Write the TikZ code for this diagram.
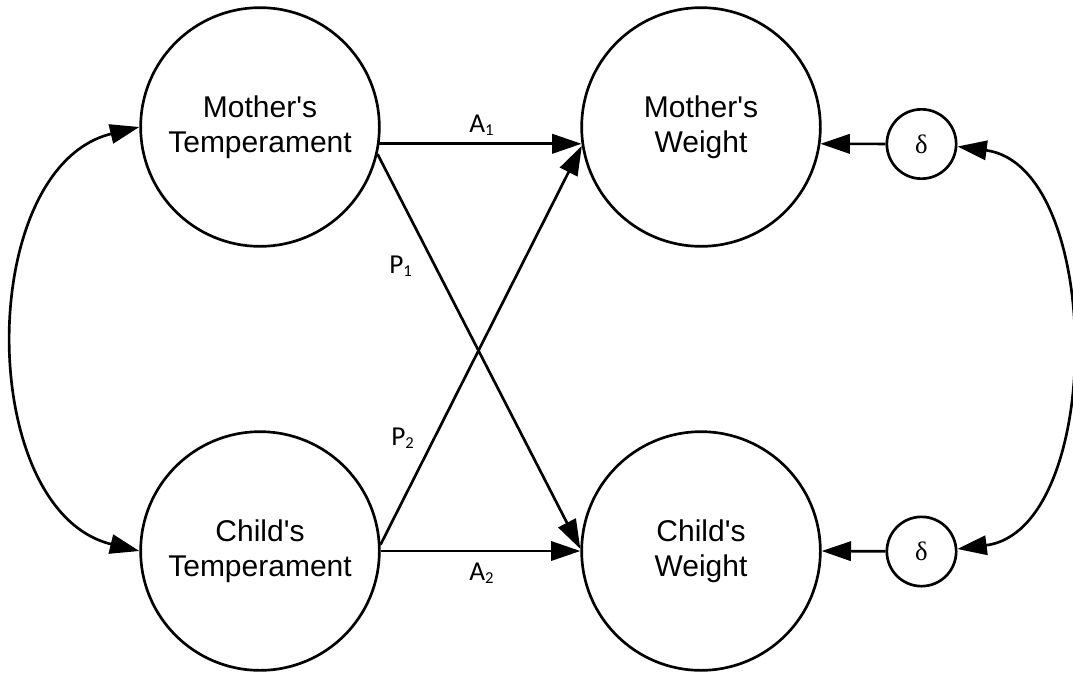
\documentclass[tikz,border=0pt]{standalone}
\usepackage{fontspec}
\setmainfont{Liberation Sans}
\newfontfamily\coeffont{Carlito}
\newfontfamily\errfont{Liberation Serif}
\usetikzlibrary{arrows.meta}
% coefficient subscript, set small and lowered
\newcommand\coefsub[1]{\raisebox{-2.8pt}{\fontsize{12.5}{14}\selectfont #1}}
\newcommand\apos{\textquotesingle}
\begin{document}
\begin{tikzpicture}[x=0.75pt,y=-0.75pt,line width=2pt,
  latent/.style={draw,circle,minimum size=179pt,inner sep=0pt,align=center,
    font=\fontsize{22.5}{26.3}\selectfont},
  errnode/.style={draw,circle,minimum size=52pt,inner sep=0pt,
    font=\errfont\fontsize{20}{22}\selectfont},
  tip/.tip={Triangle[length=22pt,width=14.5pt]},
  regpath/.style={-tip},
  covpath/.style={tip-tip},
  coef/.style={anchor=base west,inner sep=0pt,font=\coeffont\fontsize{20.5}{24}\selectfont}]
\useasboundingbox (0,0) rectangle (1073,672);

% latent variables
\node[latent] (MT) at (260,127) {Mother\apos s\\Temperament};
\node[latent] (CT) at (260,551) {Child\apos s\\Temperament};
\node[latent] (MW) at (701,127) {Mother\apos s\\Weight};
\node[latent] (CW) at (701,551) {Child\apos s\\Weight};

% disturbance terms
\node[errnode] (D1) at (921.5,144) {δ};
\node[errnode] (D2) at (921.5,551.5) {δ};

% actor and partner effects
\draw[regpath] (MT.-8) -- (MW.188);
\draw[regpath] (CT.0) -- (CW.180);
\draw[regpath] (MT.-13) -- (CW.179);
\draw[regpath] (CT.3) -- (MW.189);

% disturbances into the outcomes
\draw[regpath] (D1) -- (MW.-8);
\draw[regpath] (D2) -- (CW.0);

% covariances
\draw[covpath] (MT.180) .. controls (-25,167) and (-25,511) .. (CT.180);
\draw[covpath] (D1.-4) .. controls (1105,166) and (1105,530) .. (D2.4);

% path coefficients
\node[coef] (a1) at (468,132) {A\coefsub{1}};
\node[coef] (a2) at (468,580) {A\coefsub{2}};
\node[coef] (p1) at (388,273) {P\coefsub{1}};
\node[coef] (p2) at (390,445) {P\coefsub{2}};
\end{tikzpicture}
\end{document}
